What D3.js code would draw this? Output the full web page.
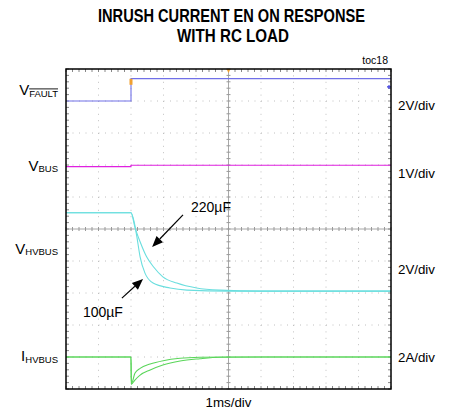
<!DOCTYPE html>
<html>
<head>
<meta charset="utf-8">
<script src="https://cdn.jsdelivr.net/npm/d3@7/dist/d3.min.js"></script>
<style>
  body { margin: 0; background: #fff; }
  text { font-family: "Liberation Sans", Arial, sans-serif; fill: #000; }
</style>
</head>
<body>
<div id="chart"></div>
<script>
// scope screen: 10 x 10 divisions, time in ms (1ms/div), trigger at 2ms
const timeDomain = [0, 10];
const divDomain = [0, 10];

// channel settings
const channelNames = ["FAULT", "BUS", "HVBUS", "HVBUS"];
const channelPrefix = ["V", "V", "V", "I"];
const channelScales = ["2V/div", "1V/div", "2V/div", "2A/div"];
const channelPerDiv = [2, 1, 2, 2];
const channelOffsetDiv = [9.0, 1.95, 3.06, 1.0];
const channelColors = ["#7070e8", "#e020e0", "#6adede", "#5ad65a"];

// VFAULT
const faultTime = [0, 2.0, 2.0, 10];
const faultVolts = [0, 0, 1.4, 1.4];

// VBUS
const busTime = [0, 2.0, 2.0, 10];
const busVolts = [5.0, 5.0, 5.04, 5.04];

// VHVBUS, 100uF and 220uF loads
const hv100Time = [0, 2.0, 2.1, 2.18, 2.28, 2.43, 2.68, 3.2, 3.72, 5.0, 10];
const hv100Volts = [4.9, 4.9, 4.3, 3.4, 2.14, 1.12, 0.5, 0.19, 0.06, 0, 0];
const hv220Time = [0, 2.0, 2.12, 2.28, 2.48, 2.69, 2.98, 3.41, 4.02, 4.74, 6.0, 10];
const hv220Volts = [4.9, 4.9, 4.0, 3.08, 2.14, 1.52, 0.89, 0.5, 0.19, 0.06, 0, 0];

// IHVBUS, 100uF and 220uF loads
const i100Time = [0, 2.0, 2.01, 2.12, 2.28, 2.59, 2.99, 3.51, 4.12, 5.0, 10];
const i100Amps = [0, 0, -1.7, -1.02, -0.71, -0.44, -0.23, -0.08, -0.02, 0, 0];
const i220Time = [0, 2.0, 2.01, 2.12, 2.28, 2.59, 2.98, 3.51, 4.12, 4.74, 6.0, 10];
const i220Amps = [0, 0, -1.7, -1.44, -1.13, -0.81, -0.5, -0.25, -0.11, -0.02, 0, 0];

// annotations: [tail time, tail div, tip time, tip div]
const annLabels = ["220µF", "100µF"];
const annArrows = [
  [3.6, 5.44, 2.65, 4.44],
  [1.72, 2.84, 2.37, 3.44],
];

(function () {
  const width = 449, height = 412;
  const margin = { top: 69, right: 58, bottom: 23, left: 66 };

  const svg = d3
    .select("#chart")
    .append("svg")
    .attr("width", width)
    .attr("height", height);

  svg.append("rect").attr("width", width).attr("height", height).attr("fill", "#fff");

  const x = d3.scaleLinear().domain(timeDomain).range([margin.left, width - margin.right]);
  const y = d3.scaleLinear().domain(divDomain).range([height - margin.bottom, margin.top]);

  // title (condensed look)
  const title = svg.append("g").style("font-weight", "bold").style("font-size", "17.5px");
  title.append("text").attr("x", 231.5).attr("y", 22).attr("text-anchor", "middle")
    .attr("textLength", 267).attr("lengthAdjust", "spacingAndGlyphs")
    .text("INRUSH CURRENT EN ON RESPONSE");
  title.append("text").attr("x", 233).attr("y", 42).attr("text-anchor", "middle")
    .attr("textLength", 112).attr("lengthAdjust", "spacingAndGlyphs")
    .text("WITH RC LOAD");

  svg.append("text").attr("x", x(10) - 3).attr("y", 63.5).attr("text-anchor", "end")
    .style("font-size", "10.5px").text("toc18");

  // dotted grid
  const grid = svg.append("g");
  d3.range(1, 10).filter((d) => d !== 5).forEach(function (d) {
    grid.append("line")
      .attr("x1", x(d)).attr("x2", x(d))
      .attr("y1", y(10)).attr("y2", y(0))
      .attr("stroke", "#c0c0c0")
      .attr("stroke-dasharray", "1," + (Math.abs(y(0.2) - y(0)) - 1));
    grid.append("line")
      .attr("y1", y(d)).attr("y2", y(d))
      .attr("x1", x(0)).attr("x2", x(10))
      .attr("stroke", "#c0c0c0")
      .attr("stroke-dasharray", "1," + (x(0.2) - x(0) - 1));
  });

  // center cross with minor ticks
  const minor = d3.range(0, 10.01, 0.2);
  grid.append("line").attr("x1", x(5)).attr("x2", x(5)).attr("y1", y(10)).attr("y2", y(0))
    .attr("stroke", "#a8a8a8");
  grid.append("line").attr("x1", x(0)).attr("x2", x(10)).attr("y1", y(5)).attr("y2", y(5))
    .attr("stroke", "#a8a8a8");
  grid.selectAll(".vtick").data(minor).enter().append("line")
    .attr("x1", x(5) - 2).attr("x2", x(5) + 2)
    .attr("y1", (d) => y(d)).attr("y2", (d) => y(d))
    .attr("stroke", "#999");
  grid.selectAll(".htick").data(minor).enter().append("line")
    .attr("y1", y(5) - 2).attr("y2", y(5) + 2)
    .attr("x1", (d) => x(d)).attr("x2", (d) => x(d))
    .attr("stroke", "#999");

  // edge ticks inside the frame
  const edge = svg.append("g").attr("stroke", "#888");
  minor.forEach(function (d) {
    edge.append("line").attr("x1", x(d)).attr("x2", x(d)).attr("y1", y(10)).attr("y2", y(10) + 3);
    edge.append("line").attr("x1", x(d)).attr("x2", x(d)).attr("y1", y(0)).attr("y2", y(0) - 3);
    edge.append("line").attr("y1", y(d)).attr("y2", y(d)).attr("x1", x(0)).attr("x2", x(0) + 3);
    edge.append("line").attr("y1", y(d)).attr("y2", y(d)).attr("x1", x(10)).attr("x2", x(10) - 3);
  });

  // traces
  const traces = [
    { ch: 0, t: faultTime, v: faultVolts, curve: d3.curveLinear },
    { ch: 1, t: busTime, v: busVolts, curve: d3.curveLinear },
    { ch: 2, t: hv220Time, v: hv220Volts, curve: d3.curveMonotoneX },
    { ch: 2, t: hv100Time, v: hv100Volts, curve: d3.curveMonotoneX },
    { ch: 3, t: i220Time, v: i220Amps, curve: d3.curveMonotoneX },
    { ch: 3, t: i100Time, v: i100Amps, curve: d3.curveMonotoneX },
  ];

  traces.forEach(function (tr) {
    const pts = tr.t.map((t, i) => [t, channelOffsetDiv[tr.ch] + tr.v[i] / channelPerDiv[tr.ch]]);
    const line = d3.line().x((d) => x(d[0])).y((d) => y(d[1])).curve(tr.curve);
    svg.append("path")
      .datum(pts)
      .attr("d", line)
      .attr("fill", "none")
      .attr("stroke", channelColors[tr.ch])
      .attr("stroke-width", 1.1);
  });

  // scope markers
  svg.append("rect").attr("x", x(2) - 1.5).attr("y", y(9.6) - 3).attr("width", 3).attr("height", 6)
    .attr("fill", "#f0a030");
  svg.append("path")
    .attr("d", `M${x(5) - 2},${y(10)} L${x(5) + 2},${y(10)} L${x(5)},${y(10) + 4} Z`)
    .attr("fill", "#f0a030");
  svg.append("path")
    .attr("d", `M${x(10) - 4},${y(9.44)} h4 M${x(10) - 2},${y(9.44) - 2} v4`)
    .attr("stroke", "#3c3ce0").attr("stroke-width", 1.1);

  // frame
  svg.append("rect")
    .attr("x", x(0)).attr("y", y(10))
    .attr("width", x(10) - x(0)).attr("height", y(0) - y(10))
    .attr("fill", "none").attr("stroke", "#000").attr("stroke-width", 1.5);

  // left channel labels
  const labelDiv = [9.3, 6.95, 4.35, 1.0];
  channelNames.forEach(function (name, i) {
    const t = svg.append("text")
      .attr("x", 58).attr("y", y(labelDiv[i]) + 4)
      .attr("text-anchor", "end")
      .style("font-size", "15px");
    t.append("tspan").text(channelPrefix[i]);
    t.append("tspan").attr("dy", 1.5).style("font-size", "9.5px").text(name);
    if (i === 0) {
      const node = t.node();
      const a = node.getExtentOfChar(1);
      const b = node.getExtentOfChar(node.getNumberOfChars() - 1);
      svg.append("line")
        .attr("x1", a.x).attr("x2", b.x + b.width)
        .attr("y1", a.y + 1).attr("y2", a.y + 1)
        .attr("stroke", "#000").attr("stroke-width", 0.9);
    }
  });

  // right V/div labels
  const scaleDiv = [8.85, 6.75, 3.75, 1.0];
  channelScales.forEach(function (s, i) {
    svg.append("text")
      .attr("x", x(10) + 7).attr("y", y(scaleDiv[i]) + 4.5)
      .style("font-size", "13.3px")
      .text(s);
  });

  svg.append("text").attr("x", x(5)).attr("y", 407).attr("text-anchor", "middle")
    .style("font-size", "13.3px").text("1ms/div");

  // capacitor annotations
  annArrows.forEach(function (a, i) {
    const x1 = x(a[0]), y1 = y(a[1]), x2 = x(a[2]), y2 = y(a[3]);
    const ang = Math.atan2(y2 - y1, x2 - x1);
    const len = 11, half = 4.5;
    const bx = x2 - len * Math.cos(ang), by = y2 - len * Math.sin(ang);
    svg.append("line").attr("x1", x1).attr("y1", y1).attr("x2", bx).attr("y2", by)
      .attr("stroke", "#000").attr("stroke-width", 1.2);
    svg.append("path")
      .attr("d", `M${x2},${y2} L${bx + half * Math.sin(ang)},${by - half * Math.cos(ang)} L${bx - half * Math.sin(ang)},${by + half * Math.cos(ang)} Z`)
      .attr("fill", "#000");
    svg.append("text")
      .attr("x", i === 0 ? x1 + 8 : x1 + 1)
      .attr("y", i === 0 ? y1 - 3 : y1 + 19)
      .attr("text-anchor", i === 0 ? "start" : "end")
      .style("font-size", "14px")
      .text(annLabels[i]);
  });
})();
</script>
</body>
</html>
